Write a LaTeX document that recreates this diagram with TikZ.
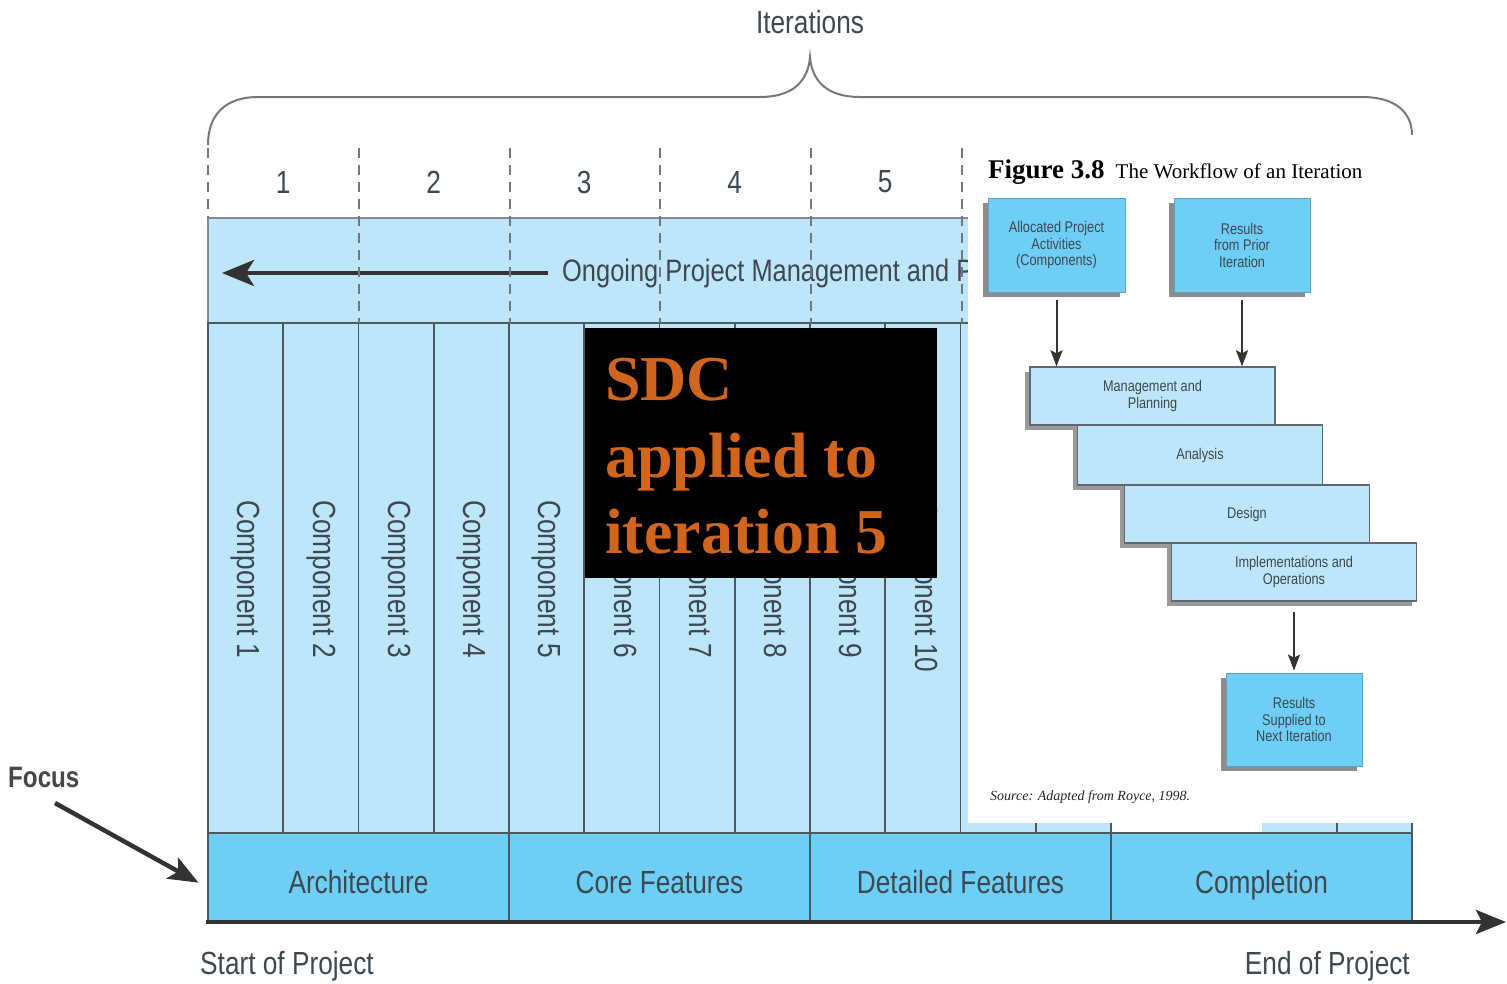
\documentclass[tikz,border=0pt]{standalone}
\usepackage{fontspec}
\usetikzlibrary{arrows.meta,shadows}
\newfontfamily\cond{Liberation Sans}[FakeStretch=0.82]
\newfontfamily\tms{Liberation Serif}
\definecolor{lblue}{HTML}{BEE6FA}
\definecolor{mblue}{HTML}{6FCEF5}
\definecolor{txt}{HTML}{3E4850}
\definecolor{ln}{HTML}{4E5860}
\definecolor{dk}{HTML}{333333}
\definecolor{org}{HTML}{D2651E}
\definecolor{brc}{HTML}{777777}
\newcommand\fsz[2]{\fontsize{#1}{#2}\selectfont}
\begin{document}
\begin{tikzpicture}[x=1pt,y=-1pt,
  lbl/.style={font=\cond\fsz{32}{38}, text=txt, inner sep=0pt},
  small/.style={font=\cond\fsz{15.5}{16.5}, text=txt, align=center, inner sep=0pt},
  colbox/.style={fill=lblue, draw=ln, line width=1.6pt, minimum width=75.25pt, minimum height=510pt, inner sep=0pt},
  phase/.style={fill=mblue, draw=ln, line width=1.6pt, minimum width=301pt, minimum height=89pt, inner sep=0pt, font=\cond\fsz{32}{38}, text=txt, text height=31pt, text depth=0pt},
  dsh/.style={draw=ln!80, line width=2pt, dash pattern=on 10pt off 7pt},
  bigarrow/.style={draw=dk, line width=4.5pt, -{Stealth[length=32pt,width=26pt,inset=8pt]}},
  axisline/.style={draw=dk, line width=4pt, -{Stealth[length=30pt,width=24pt,inset=6pt]}},
  parrow/.style={draw=dk, line width=2pt, -{Stealth[length=16pt,width=12pt,inset=3pt]}},
  pbox/.style={fill=mblue, draw=mblue!80!black, line width=0.8pt, minimum width=137pt, minimum height=94pt, inner sep=0pt, small,
     drop shadow={shadow xshift=-5pt, shadow yshift=-5pt, fill=black!45, opacity=1}},
  stair/.style={fill=lblue, draw=ln!90, line width=1.4pt, minimum width=245pt, minimum height=58pt, inner sep=0pt, small,
     drop shadow={shadow xshift=-5pt, shadow yshift=-5pt, fill=black!40, opacity=1}},
  sdc/.style={font=\tms\bfseries\fsz{64}{76}, text=org, inner sep=0pt, anchor=base west}
]
\useasboundingbox (0,0) rectangle (1507,983);
\fill[white] (0,0) rectangle (1507,983);

% iterations brace
\node[lbl] (iter) at (810,22) {Iterations};
\draw[brc, line width=2pt] (208,145) .. controls (208,115) and (225,97) .. (258,97) -- (760,97)
  .. controls (792,97) and (808,82) .. (810,57) .. controls (812,82) and (828,97) .. (860,97)
  -- (1362,97) .. controls (1395,97) and (1412,112) .. (1412,135);

% iteration numbers
\foreach \n in {1,...,5} {
  \node[lbl] (num\n) at ({208+150.5*\n-75.25},182) {\n};
}

% management band
\node[fill=lblue, draw=ln!70, line width=1.6pt, minimum width=1204pt, minimum height=105pt, inner sep=0pt] (mgmt) at (810,270.5) {};
\begin{scope}
  \clip (208,218) rectangle (968,323);
  \node[lbl, anchor=west, font=\cond\fsz{31}{36}] (ongo) at (562,273) {Ongoing Project Management and P};
\end{scope}
\coordinate (m0) at (548,273);
\coordinate (m1) at (222,273);
\draw[bigarrow] (m0) -- (m1);

% component columns
\foreach \i in {1,...,16} {
  \node[colbox] (col\i) at ({208+75.25*\i-37.625},578) {};
}
\foreach \i in {1,...,10} {
  \node[lbl, rotate=-90, anchor=west] (cl\i) at ({208+75.25*\i-37.625},500) {Component \i};
}

% dashed iteration lines
\draw[dsh] (208,148) -- (208,218);
\foreach \x in {359,510,660,811,962} {
  \draw[dsh] (\x,148) -- (\x,323);
}

% phase band
\node[phase] (arch) at (358.5,877.5) {Architecture};
\node[phase] (core) at (659.5,877.5) {Core Features};
\node[phase] (det)  at (960.5,877.5) {Detailed Features};
\node[phase] (comp) at (1261.5,877.5) {Completion};

% time axis
\coordinate (ax0) at (206,922);
\coordinate (ax1) at (1506,922);
\draw[axisline] (ax0) -- (ax1);
\node[lbl, anchor=west] (start) at (200,966) {Start of Project};
\node[lbl, anchor=east] (end) at (1410,966) {End of Project};

% focus
\node[lbl, anchor=west, font=\cond\bfseries\fsz{29.5}{36}, text=dk!90] (focus) at (8,777) {Focus};
\coordinate (fs) at (55,803);
\draw[draw=dk, line width=4.5pt, -{Stealth[length=30pt,width=24pt,inset=7pt]}, shorten >=10pt] (fs) -- ([yshift=-10pt]arch.west);

% black overlay box
\node[fill=black, minimum width=352pt, minimum height=250pt, inner sep=0pt, anchor=north west] (bb) at (585,328) {};
\node[sdc] (sdc1) at (605,400) {SDC};
\node[sdc] (sdc2) at (605,477) {applied to};
\node[sdc] (sdc3) at (605,553) {iteration 5};

% pasted panel
\fill[white] (968,135) rectangle (1416,823);
\fill[white] (1112,822) rectangle (1262,832);
\node[anchor=base west, inner sep=0pt] (ttl) at (988,178) {{\tms\bfseries\fsz{27}{30}Figure 3.8}\hspace{11pt}{\tms\fsz{21}{24}The Workflow of an Iteration}};

\node[pbox] (A) at (1056.5,245) {Allocated Project\\Activities\\(Components)};
\node[pbox, minimum width=136pt] (B) at (1242,245) {Results\\from Prior\\Iteration};

\node[stair] (mp) at (1152.5,396) {Management and\\Planning};
\node[stair, minimum height=60pt] (an) at (1200,455) {Analysis};
\node[stair] (ds) at (1247,514) {Design};
\node[stair] (im) at (1294,572) {Implementations and\\Operations};

\node[pbox, minimum width=136pt, minimum height=93pt] (C) at (1294,719.5) {Results\\Supplied to\\Next Iteration};

\draw[parrow, shorten <=8pt] (A.south) -- (A.south |- mp.north);
\draw[parrow, shorten <=8pt] (B.south) -- (B.south |- mp.north);
\draw[parrow, shorten <=10pt, shorten >=2pt] (im.south) -- (C.north);

\node[anchor=base west, inner sep=0pt, font=\tms\itshape\fsz{14}{16}, text=black!85] (src) at (990,800) {Source: Adapted from Royce, 1998.};
\end{tikzpicture}
\end{document}
